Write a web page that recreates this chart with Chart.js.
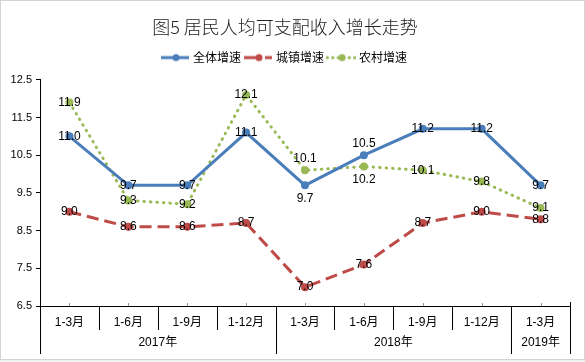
<!DOCTYPE html>
<html>
<head>
<meta charset="utf-8">
<script src="https://cdn.jsdelivr.net/npm/chart.js@4"></script>
<style>
  html, body { margin: 0; padding: 0; background: #fff; }
  #wrap { width: 585px; height: 362px; }
</style>
</head>
<body>
<div id="wrap"><canvas id="incomeChart" width="585" height="362"></canvas></div>
<script>
const periods = ["1-3月", "1-6月", "1-9月", "1-12月", "1-3月", "1-6月", "1-9月", "1-12月", "1-3月"];
const years = ["2017年", "2018年", "2019年"];
const yearCounts = [4, 4, 1];

const totalGrowth = [11.0, 9.7, 9.7, 11.1, 9.7, 10.5, 11.2, 11.2, 9.7];
const urbanGrowth = [9.0, 8.6, 8.6, 8.7, 7.0, 7.6, 8.7, 9.0, 8.8];
const ruralGrowth = [11.9, 9.3, 9.2, 12.1, 10.1, 10.2, 10.1, 9.8, 9.1];

const yTicks = [6.5, 7.5, 8.5, 9.5, 10.5, 11.5, 12.5];

// where each data label sits: c = on the point, a = above, b = below
const labelPlace = [
  ["c", "c", "c", "c", "b", "a", "c", "c", "c"],
  ["c", "c", "c", "c", "c", "c", "c", "c", "c"],
  ["c", "c", "c", "c", "a", "b", "c", "c", "c"]
];

const BLUE = "#4A7EBB";
const RED = "#BE4B48";
const GREEN = "#98B954";
const FONT = "'Liberation Sans', 'Noto Sans CJK SC', sans-serif";
const CJK = "'Noto Sans CJK SC', sans-serif";

function makeSample(color, dash, cap) {
  const c = document.createElement("canvas");
  c.width = 30;
  c.height = 10;
  const g = c.getContext("2d");
  g.strokeStyle = color;
  g.lineWidth = 3;
  g.lineCap = cap;
  g.setLineDash(dash);
  g.beginPath();
  g.moveTo(1, 5);
  g.lineTo(29, 5);
  g.stroke();
  g.fillStyle = color;
  g.beginPath();
  g.arc(16, 5, 3.5, 0, Math.PI * 2);
  g.fill();
  return c;
}

const samples = [
  makeSample(BLUE, [], "butt"),
  makeSample(RED, [17, 4], "butt"),
  makeSample(GREEN, [0.5, 5], "round")
];

const frame = {
  id: "frame",
  beforeDraw(chart) {
    const ctx = chart.ctx;
    ctx.save();
    ctx.fillStyle = "#fff";
    ctx.fillRect(0, 0, chart.width, chart.height);
    ctx.fillStyle = "#f0f0f0";
    ctx.fillRect(0, 360, chart.width, 2);
    ctx.strokeStyle = "#d4d4d4";
    ctx.lineWidth = 1;
    ctx.strokeRect(0.5, 0.5, 584, 359);
    ctx.restore();
  }
};

const groupAxis = {
  id: "groupAxis",
  afterDraw(chart) {
    const ctx = chart.ctx;
    const x = chart.scales.x;
    const bottom = chart.chartArea.bottom;
    const step = x.getPixelForValue(1) - x.getPixelForValue(0);
    const edge = k => (k < periods.length ? x.getPixelForValue(k) - step / 2 : x.getPixelForValue(periods.length - 1) + step / 2);

    const full = [0];
    let acc = 0;
    for (const n of yearCounts) {
      acc += n;
      full.push(acc);
    }

    ctx.save();
    ctx.strokeStyle = "#000";
    ctx.lineWidth = 1;
    for (let k = 0; k <= periods.length; k++) {
      const px = Math.round(edge(k)) + 0.5;
      const long = full.includes(k);
      ctx.beginPath();
      ctx.moveTo(px, k === periods.length ? bottom - 4 : bottom);
      ctx.lineTo(px, long ? bottom + 48 : bottom + 24);
      ctx.stroke();
    }

    ctx.strokeStyle = "#999";
    for (let i = 0; i < periods.length; i++) {
      const px = Math.round(x.getPixelForValue(i)) + 0.5;
      ctx.beginPath();
      ctx.moveTo(px, bottom - 3);
      ctx.lineTo(px, bottom);
      ctx.stroke();
    }

    ctx.fillStyle = "#000";
    ctx.font = "12px " + FONT;
    ctx.textAlign = "center";
    ctx.textBaseline = "middle";
    years.forEach((yr, i) => {
      const cx = (edge(full[i]) + edge(full[i + 1])) / 2;
      ctx.fillText(yr, cx, bottom + 37);
    });
    ctx.restore();
  }
};

const valueLabels = {
  id: "valueLabels",
  afterDatasetsDraw(chart) {
    const ctx = chart.ctx;
    ctx.save();
    ctx.fillStyle = "#000";
    ctx.font = "12px " + FONT;
    ctx.textAlign = "center";
    ctx.textBaseline = "middle";
    chart.data.datasets.forEach((ds, di) => {
      const meta = chart.getDatasetMeta(di);
      meta.data.forEach((pt, i) => {
        const place = labelPlace[di][i];
        let y = pt.y;
        if (place === "a") y -= 12;
        if (place === "b") y += 13;
        ctx.fillText(ds.data[i].toFixed(1), pt.x, y);
      });
    });
    ctx.restore();
  }
};

const ctx = document.getElementById("incomeChart").getContext("2d");
const incomeChart = new Chart(ctx, {
  type: "line",
  data: {
    labels: periods,
    datasets: [
      {
        label: "全体增速",
        data: totalGrowth,
        borderColor: BLUE,
        backgroundColor: BLUE,
        borderWidth: 3,
        pointRadius: 4,
        pointBorderWidth: 0,
        tension: 0
      },
      {
        label: "城镇增速",
        data: urbanGrowth,
        borderColor: RED,
        backgroundColor: RED,
        borderWidth: 3,
        borderDash: [12, 6],
        pointRadius: 4,
        pointBorderWidth: 0,
        tension: 0
      },
      {
        label: "农村增速",
        data: ruralGrowth,
        borderColor: GREEN,
        backgroundColor: GREEN,
        borderWidth: 3,
        borderDash: [0.5, 6],
        borderCapStyle: "round",
        pointRadius: 4,
        pointBorderWidth: 0,
        tension: 0
      }
    ]
  },
  options: {
    responsive: false,
    animation: false,
    layout: {
      padding: { left: 0, right: 15, top: 0, bottom: 0 }
    },
    plugins: {
      title: {
        display: true,
        text: "图5 居民人均可支配收入增长走势",
        color: "#222",
        font: { family: CJK, size: 18, weight: "300" },
        padding: { top: 16, bottom: 9 }
      },
      subtitle: {
        display: true,
        text: "",
        weight: 500,
        font: { size: 1 },
        padding: { top: 5, bottom: 0 }
      },
      legend: {
        display: true,
        position: "top",
        labels: {
          color: "#000",
          font: { family: CJK, size: 12 },
          usePointStyle: true,
          pointStyleWidth: 24,
          padding: 5,
          generateLabels(chart) {
            const items = Chart.defaults.plugins.legend.labels.generateLabels(chart);
            items.forEach((it, i) => {
              it.pointStyle = samples[i];
            });
            return items;
          }
        }
      },
      tooltip: { enabled: false }
    },
    scales: {
      x: {
        offset: true,
        grid: { display: false, drawTicks: false },
        border: { display: true, color: "#000", width: 1 },
        ticks: {
          color: "#000",
          font: { family: FONT, size: 12 },
          padding: 9,
          maxRotation: 0,
          autoSkip: false
        },
        afterFit(scale) {
          scale.height = 56;
        }
      },
      y: {
        min: 6.5,
        max: 12.5,
        grid: { drawOnChartArea: false, drawTicks: true, tickLength: 4, color: "#000" },
        border: { display: true, color: "#000", width: 1 },
        ticks: {
          stepSize: 1,
          color: "#000",
          padding: 4,
          font: { family: FONT, size: 11 },
          callback: v => (yTicks.includes(v) ? v.toFixed(1) : "")
        },
        afterFit(scale) {
          scale.width = 40;
        }
      }
    }
  },
  plugins: [frame, groupAxis, valueLabels]
});
</script>
</body>
</html>
